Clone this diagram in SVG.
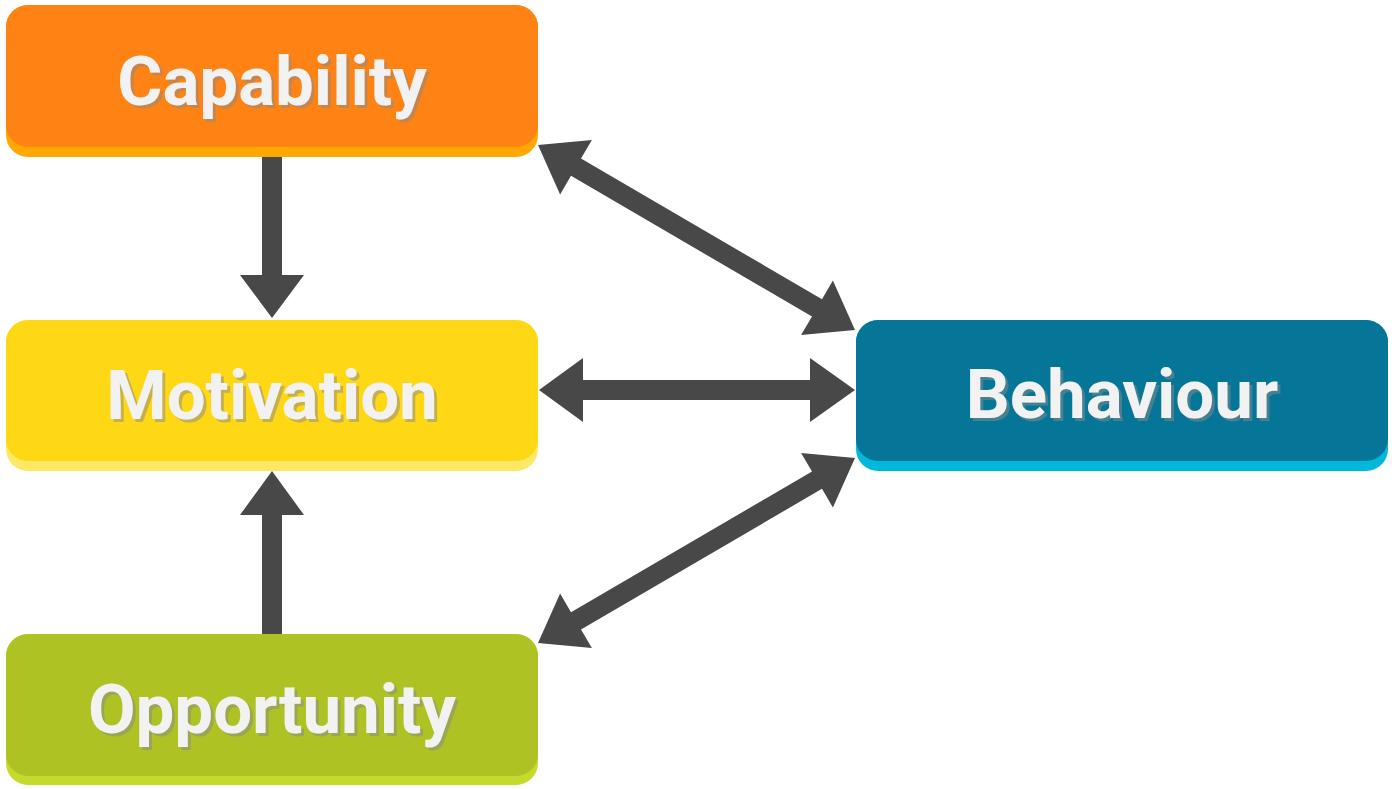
<svg xmlns="http://www.w3.org/2000/svg" width="1392" height="789" viewBox="0 0 1392 789">
<defs>
<filter id="tshadow" x="-10%" y="-20%" width="120%" height="150%">
<feOffset in="SourceAlpha" dx="3" dy="3" result="off"/>
<feFlood flood-color="#8a8a8a" flood-opacity="0.5"/>
<feComposite in2="off" operator="in" result="sh"/>
<feMerge><feMergeNode in="sh"/><feMergeNode in="SourceGraphic"/></feMerge>
</filter>
</defs>
<style>
.lbl{font-family:Roboto,"Liberation Sans",sans-serif;font-weight:700;font-size:69px;text-anchor:middle;fill:#f2f2f2;filter:url(#tshadow)}
.arr{fill:#484848}
</style>
<rect width="1392" height="789" fill="#ffffff"/>
<g id="connectors">
<polygon class="arr" points="262,157 282,157 282,275 304,275 272,318 240,275 262,275"/>
<polygon class="arr" points="262,634 282,634 282,515 304,515 272,471 240,515 262,515"/>
<polygon class="arr" points="539,390 583,358 583,380 810,380 810,358 855,390 810,422 810,400 583,400 583,422"/>
<polygon class="arr" points="538,145 591.9,140 581,158.6 822,299.2 832.9,280.6 855,330 801.1,335 812,316.5 571,175.8 560.1,194.4"/>
<polygon class="arr" points="538,643 591.9,648 581,629.4 822,488.8 832.9,507.4 855,458 801.1,453 812,471.5 571,612.2 560.1,593.6"/>
</g>
<g id="capability">
<rect x="6" y="5" width="532" height="152" rx="22" fill="#ffa800"/>
<rect x="6" y="5" width="532" height="142" rx="22" fill="#ff8214"/>
<text class="lbl" x="272" y="105">Capability</text>
</g>
<g id="motivation">
<rect x="6" y="320" width="532" height="151" rx="22" fill="#ffe866"/>
<rect x="6" y="320" width="532" height="141" rx="22" fill="#ffd815"/>
<text class="lbl" x="272" y="419">Motivation</text>
</g>
<g id="opportunity">
<rect x="6" y="634" width="532" height="151" rx="22" fill="#c4da2c"/>
<rect x="6" y="634" width="532" height="142" rx="22" fill="#aec224"/>
<text class="lbl" x="272" y="733">Opportunity</text>
</g>
<g id="behaviour">
<rect x="856" y="320" width="532" height="151" rx="22" fill="#00b8db"/>
<rect x="856" y="320" width="532" height="141" rx="22" fill="#067698"/>
<text class="lbl" x="1122" y="418">Behaviour</text>
</g>
</svg>
